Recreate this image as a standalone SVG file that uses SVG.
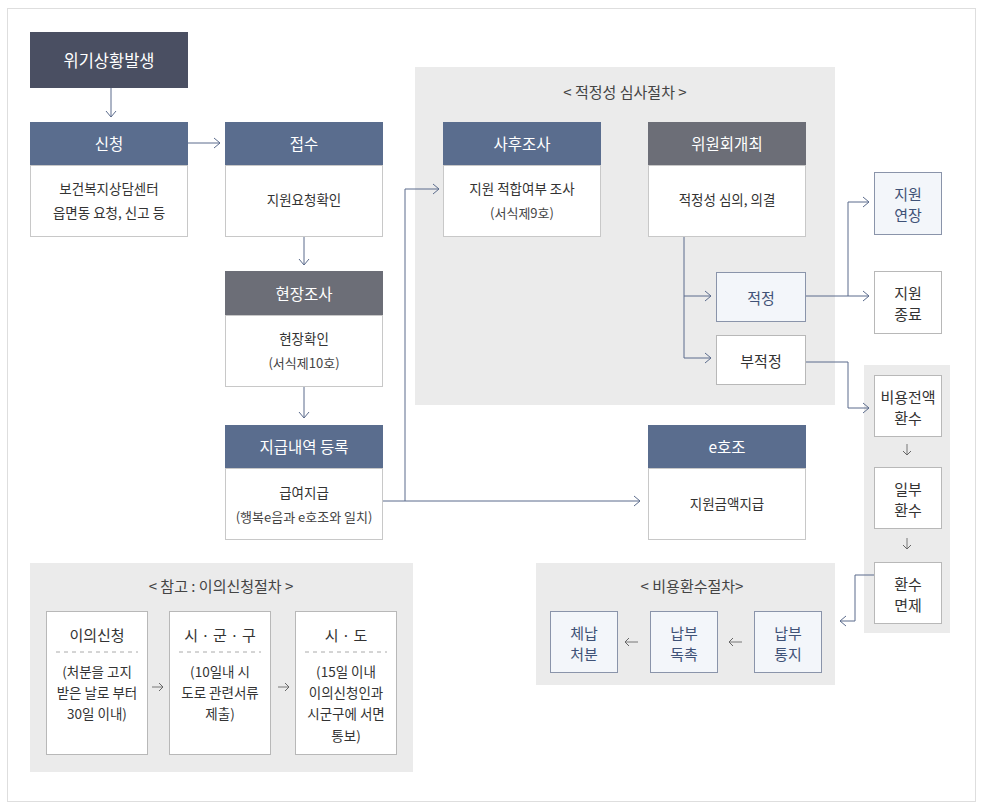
<svg xmlns="http://www.w3.org/2000/svg" width="984" height="808" viewBox="0 0 984 808">
<defs>
<marker id="ah" markerUnits="userSpaceOnUse" markerWidth="10" markerHeight="12" refX="7" refY="6" orient="auto">
<path d="M1,1 L7,6 L1,11" fill="none" stroke="#5b6b8c" stroke-width="1"/>
</marker>
<marker id="sa" markerUnits="userSpaceOnUse" markerWidth="8" markerHeight="10" refX="5" refY="5" orient="auto">
<path d="M1,1 L5,5 L1,9" fill="none" stroke="#666" stroke-width="1"/>
</marker>
<style>
text{font-family:"Noto Sans CJK KR","Noto Sans",sans-serif;text-anchor:middle;dominant-baseline:central}
.hd{fill:#fff;font-size:15.5px}
.bd{fill:#333;font-size:13.5px}
.sm{fill:#444;font-size:13px}
.tt{fill:#444;font-size:15px}
.blue{fill:#5a6d8e}
.gray{fill:#6c6e77}
.body{fill:#fff;stroke:#c8c8c8;stroke-width:1}
.panel{fill:#ebebeb}
.lb{fill:#f3f6fa;stroke:#8a94aa;stroke-width:1}
.wb{fill:#fff;stroke:#b8b8b8;stroke-width:1}
.bt{fill:#3f5277;font-size:15px}
.kt{fill:#333;font-size:15px}
.ln{fill:none;stroke:#5b6b8c;stroke-width:1}
.sl{fill:none;stroke:#777;stroke-width:1}
</style>
</defs>
<rect x="7.5" y="8.5" width="968" height="793" fill="#fff" stroke="#dedede"/>

<!-- panels -->
<rect class="panel" x="415" y="67" width="420" height="338"/>
<text class="tt" x="625" y="91">&lt; 적정성 심사절차 &gt;</text>
<rect class="panel" x="864" y="365" width="86" height="268"/>
<rect class="panel" x="536" y="563" width="299" height="122"/>
<text class="tt" x="692" y="585">&lt; 비용환수절차&gt;</text>
<rect class="panel" x="30" y="563" width="383" height="209"/>
<text class="tt" x="221" y="585">&lt; 참고 : 이의신청절차 &gt;</text>

<g id="connectors">
<path class="ln" d="M111,88 V117" marker-end="url(#ah)"/>
<path class="ln" d="M188,143 H220" marker-end="url(#ah)"/>
<path class="ln" d="M304,237 V265" marker-end="url(#ah)"/>
<path class="ln" d="M304,387 V418" marker-end="url(#ah)"/>
<path class="ln" d="M383,501 H640" marker-end="url(#ah)"/>
<path class="ln" d="M405,501 V189 H439" marker-end="url(#ah)"/>
<path class="ln" d="M684,237 V358 H711" marker-end="url(#ah)"/>
<path class="ln" d="M684,296 H711" marker-end="url(#ah)"/>
<path class="ln" d="M806,296 H869" marker-end="url(#ah)"/>
<path class="ln" d="M848,296 V202 H869" marker-end="url(#ah)"/>
<path class="ln" d="M806,362 H848 V408 H869" marker-end="url(#ah)"/>
<path class="ln" d="M874,575 H855 V621 H840" marker-end="url(#ah)"/>
<path class="sl" d="M907,444 V455" marker-end="url(#sa)"/>
<path class="sl" d="M907,538 V549" marker-end="url(#sa)"/>
<path class="sl" d="M742,642 H729" marker-end="url(#sa)"/>
<path class="sl" d="M638,642 H625" marker-end="url(#sa)"/>
<path class="sl" d="M152,687 H163" marker-end="url(#sa)"/>
<path class="sl" d="M278,687 H289" marker-end="url(#sa)"/>
</g>

<g id="n-crisis">
<rect x="30" y="32" width="158" height="56" fill="#4a4f62"/>
<text class="hd" x="109" y="60" style="font-size:16.5px">위기상황발생</text>
</g>
<g id="n-apply">
<rect class="body" x="30.5" y="165.5" width="157" height="71"/>
<rect class="blue" x="30" y="122" width="158" height="43"/>
<text class="hd" x="109" y="143">신청</text>
<text class="bd" x="109" y="188">보건복지상담센터</text>
<text class="bd" x="109" y="212">읍면동 요청, 신고 등</text>
</g>
<g id="n-receive">
<rect class="body" x="225.5" y="165.5" width="157" height="71"/>
<rect class="blue" x="225" y="122" width="158" height="43"/>
<text class="hd" x="304" y="143">접수</text>
<text class="bd" x="304" y="199">지원요청확인</text>
</g>
<g id="n-field">
<rect class="body" x="225.5" y="315.5" width="157" height="71"/>
<rect class="gray" x="225" y="271" width="158" height="44"/>
<text class="hd" x="304" y="293">현장조사</text>
<text class="bd" x="304" y="338">현장확인</text>
<text class="sm" x="304" y="362">(서식제10호)</text>
</g>
<g id="n-pay">
<rect class="body" x="225.5" y="468.5" width="157" height="71"/>
<rect class="blue" x="225" y="425" width="158" height="43"/>
<text class="hd" x="304" y="446">지급내역 등록</text>
<text class="bd" x="304" y="492">급여지급</text>
<text class="sm" x="304" y="516">(행복e음과 e호조와 일치)</text>
</g>
<g id="n-post">
<rect class="body" x="443.5" y="165.5" width="157" height="71"/>
<rect class="blue" x="443" y="122" width="158" height="43"/>
<text class="hd" x="522" y="143">사후조사</text>
<text class="bd" x="522" y="188">지원 적합여부 조사</text>
<text class="sm" x="522" y="212">(서식제9호)</text>
</g>
<g id="n-committee">
<rect class="body" x="648.5" y="165.5" width="157" height="71"/>
<rect class="gray" x="648" y="122" width="158" height="43"/>
<text class="hd" x="727" y="143">위원회개최</text>
<text class="bd" x="727" y="199">적정성 심의, 의결</text>
</g>
<g id="n-ehojo">
<rect class="body" x="648.5" y="468.5" width="157" height="71"/>
<rect class="blue" x="648" y="425" width="158" height="43"/>
<text class="hd" x="727" y="446">e호조</text>
<text class="bd" x="727" y="503">지원금액지급</text>
</g>
<g id="n-ok">
<rect class="lb" x="716.5" y="272.5" width="89" height="49"/>
<text class="bt" x="761" y="297">적정</text>
</g>
<g id="n-nok">
<rect class="wb" x="716.5" y="335.5" width="89" height="49"/>
<text class="kt" x="761" y="360">부적정</text>
</g>
<g id="n-extend">
<rect class="lb" x="874.5" y="172.5" width="67" height="62"/>
<text class="bt" x="908" y="193">지원</text>
<text class="bt" x="908" y="214">연장</text>
</g>
<g id="n-end">
<rect class="wb" x="874.5" y="271.5" width="67" height="62"/>
<text class="kt" x="908" y="292">지원</text>
<text class="kt" x="908" y="313">종료</text>
</g>
<g id="n-full">
<rect class="wb" x="874.5" y="375.5" width="67" height="61"/>
<text class="kt" x="908" y="396">비용전액</text>
<text class="kt" x="908" y="417">환수</text>
</g>
<g id="n-part">
<rect class="wb" x="874.5" y="467.5" width="67" height="61"/>
<text class="kt" x="908" y="488">일부</text>
<text class="kt" x="908" y="509">환수</text>
</g>
<g id="n-exempt">
<rect class="wb" x="874.5" y="562.5" width="67" height="61"/>
<text class="kt" x="908" y="583">환수</text>
<text class="kt" x="908" y="604">면제</text>
</g>
<g id="n-notice">
<rect class="lb" x="754.5" y="611.5" width="67" height="61"/>
<text class="bt" x="788" y="632">납부</text>
<text class="bt" x="788" y="653">통지</text>
</g>
<g id="n-urge">
<rect class="lb" x="650.5" y="611.5" width="67" height="61"/>
<text class="bt" x="684" y="632">납부</text>
<text class="bt" x="684" y="653">독촉</text>
</g>
<g id="n-arrears">
<rect class="lb" x="550.5" y="611.5" width="67" height="61"/>
<text class="bt" x="584" y="632">체납</text>
<text class="bt" x="584" y="653">처분</text>
</g>
<g id="n-obj">
<rect class="wb" x="46.5" y="611.5" width="101" height="143"/>
<text class="kt" x="97" y="634">이의신청</text>
<path d="M56,652 H138" stroke="#aaa" stroke-dasharray="4,4"/>
<text class="bd" x="97" y="671">(처분을 고지</text>
<text class="bd" x="97" y="692">받은 날로 부터</text>
<text class="bd" x="97" y="713">30일 이내)</text>
</g>
<g id="n-sigungu">
<rect class="wb" x="169.5" y="611.5" width="101" height="143"/>
<text class="kt" x="220" y="634">시 · 군 · 구</text>
<path d="M179,652 H261" stroke="#aaa" stroke-dasharray="4,4"/>
<text class="bd" x="220" y="671">(10일내 시</text>
<text class="bd" x="220" y="692">도로 관련서류</text>
<text class="bd" x="220" y="713">제출)</text>
</g>
<g id="n-sido">
<rect class="wb" x="295.5" y="611.5" width="101" height="143"/>
<text class="kt" x="346" y="634">시 · 도</text>
<path d="M305,652 H387" stroke="#aaa" stroke-dasharray="4,4"/>
<text class="bd" x="346" y="671">(15일 이내</text>
<text class="bd" x="346" y="692">이의신청인과</text>
<text class="bd" x="346" y="713">시군구에 서면</text>
<text class="bd" x="346" y="735">통보)</text>
</g>
</svg>
